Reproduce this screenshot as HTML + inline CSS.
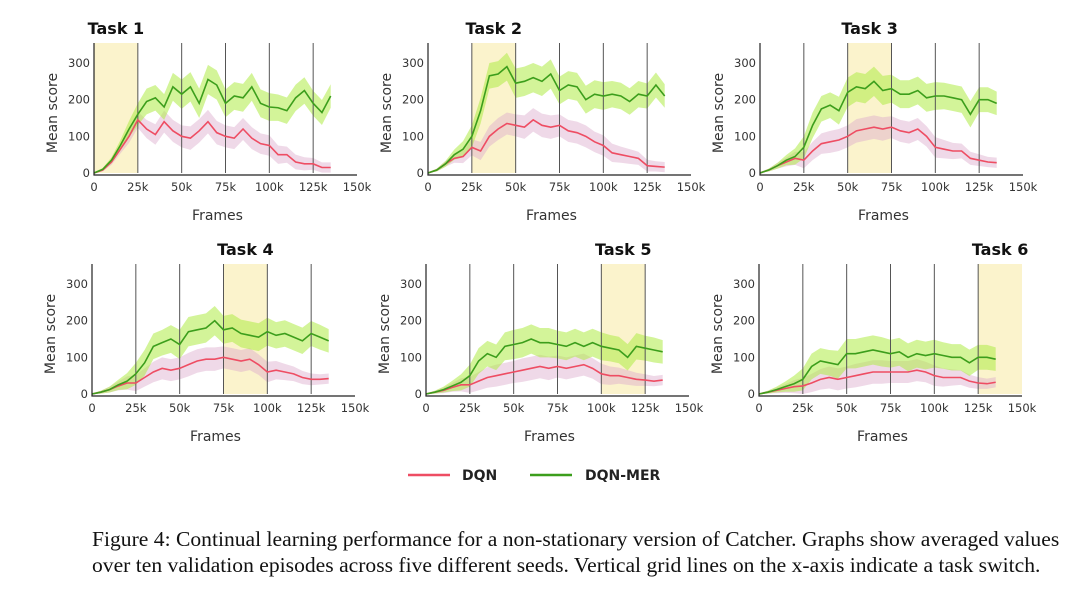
<!DOCTYPE html>
<html><head><meta charset="utf-8">
<style>
body{margin:0;background:#fff;width:1080px;height:591px;overflow:hidden;}
svg{display:block}
.cap{position:absolute;left:92px;width:966px;font-family:"Liberation Serif",serif;font-size:21.6px;line-height:26px;color:#111;white-space:nowrap;}
.l1{top:526px;text-align:justify;text-align-last:justify;}
.l2{top:552px;}
</style></head>
<body>
<svg id="fig" width="1080" height="591" xmlns="http://www.w3.org/2000/svg"></svg>
<div class="cap l1">Figure 4: Continual learning performance for a non-stationary version of Catcher. Graphs show averaged values</div>
<div class="cap l2">over ten validation episodes across five different seeds. Vertical grid lines on the x-axis indicate a task switch.</div>
<script>
const frames = [0,5,10,15,20,25,30,35,40,45,50,55,60,65,70,75,80,85,90,95,100,105,110,115,120,125,130,135];
const xTicks = [0,25,50,75,100,125,150];
const xTickLabels = ["0","25k","50k","75k","100k","125k","150k"];
const yTicks = [0,100,200,300];
const taskNames = ["Task 1","Task 2","Task 3","Task 4","Task 5","Task 6"];
const switches = [25,50,75,100,125];
const dqnMer1 = [0,10,35,75,120,160,195,205,180,235,215,235,190,255,240,190,210,205,235,190,180,178,170,205,225,190,165,210];
const dqn1 = [0,8,30,65,100,145,120,105,140,115,100,95,115,140,110,100,95,120,95,80,75,50,50,30,25,25,15,15];
const dqnMer2 = [0,8,25,50,65,100,170,265,270,290,245,250,260,250,270,225,240,235,200,215,210,215,210,195,215,210,240,210];
const dqn2 = [0,8,25,40,45,70,60,100,120,135,130,125,145,130,125,130,115,110,100,85,75,55,50,45,40,20,18,16];
const dqnMer3 = [0,8,20,35,45,70,130,175,185,170,220,235,230,250,225,230,215,215,225,205,210,210,205,200,160,200,200,190];
const dqn3 = [0,8,20,30,40,35,60,80,85,90,100,115,120,125,120,125,115,110,120,100,70,65,60,60,40,35,30,28];
const dqnMer4 = [0,5,12,25,35,55,85,130,140,150,135,170,175,180,200,175,180,165,160,155,170,160,165,155,145,165,155,145];
const dqn4 = [0,5,12,22,30,30,45,60,70,65,70,80,90,95,95,100,95,90,95,80,60,65,60,55,45,40,40,42];
const dqnMer5 = [0,5,12,22,32,50,90,110,100,130,135,140,150,140,140,135,130,140,130,140,130,125,120,100,130,125,120,115];
const dqn5 = [0,5,10,18,25,25,35,45,50,55,60,65,70,75,70,75,70,75,80,70,55,50,50,45,40,38,35,38];
const dqnMer6 = [0,5,12,20,28,40,75,90,85,80,110,110,115,120,115,110,115,100,110,105,110,105,100,100,85,100,100,95];
const dqn6 = [0,5,10,15,20,22,30,40,45,40,45,50,55,60,60,60,60,60,65,60,50,45,45,45,35,30,28,32];
const merSpread = [2,4,8,14,22,30,35,35,35,38,40,40,40,40,40,38,38,38,38,38,38,36,36,36,36,34,34,32];
const dqnSpread = [2,4,8,12,18,22,25,28,30,30,30,32,32,32,32,30,30,30,30,28,28,25,22,20,18,16,14,14];
const merSeries=[dqnMer1,dqnMer2,dqnMer3,dqnMer4,dqnMer5,dqnMer6];
const dqnSeries=[dqn1,dqn2,dqn3,dqn4,dqn5,dqn6];

const NS="http://www.w3.org/2000/svg";
const svg=document.getElementById('fig');
function mk(tag,attrs,parent){const e=document.createElementNS(NS,tag);for(const k in attrs)e.setAttribute(k,attrs[k]);(parent||svg).appendChild(e);return e;}
const panels=[{x0:94,y0:173},{x0:428,y0:173},{x0:760,y0:173},{x0:92,y0:394},{x0:426,y0:394},{x0:759,y0:394}];
const W=263, PPU=110/300;
panels.forEach((p,i)=>{
  const g=mk('g',{});
  
  
  const sx=v=>p.x0+v/150*W, sy=v=>p.y0-v*PPU;
  const top=p.y0-130;
  const hl=mk('rect',{x:sx(i*25),y:top,width:sx((i+1)*25)-sx(i*25),height:p.y0-top,fill:'#fbf3cc'},g);
  
  
  const band=(arr,sp,fill,name)=>{
    let d='M'+frames.map((f,j)=>sx(f)+','+sy(arr[j]+sp[j])).join('L');
    for(let j=frames.length-1;j>=0;j--)d+='L'+sx(frames[j])+','+sy(Math.max(0,arr[j]-sp[j]));
    const e=mk('path',{d:d+'Z',fill:fill},g);
    
    
  };
  band(dqnSeries[i],dqnSpread,'rgba(220,170,205,0.45)','dqn-band');
  band(merSeries[i],merSpread,'rgba(175,235,70,0.55)','dqn-mer-band');
  switches.forEach(s=>{const l=mk('line',{x1:sx(s),x2:sx(s),y1:top,y2:p.y0,stroke:'#555','stroke-width':1},g);
    
    });
  const line=(arr,col,name)=>{const e=mk('polyline',{points:frames.map((f,j)=>sx(f)+','+sy(arr[j])).join(' '),fill:'none',stroke:col,'stroke-width':1.6},g);
    
    };
  line(dqnSeries[i],'#ee4d63','dqn-line');
  line(merSeries[i],'#3c9e1c','dqn-mer-line');
  const ax=mk('path',{d:`M${p.x0},${top}V${p.y0+2}H${p.x0+W}`,fill:'none',stroke:'#222','stroke-width':1.2},g);
  
  
  xTicks.forEach((t,j)=>{const e=mk('text',{x:sx(t),y:p.y0+18,'text-anchor':'middle','font-family':'DejaVu Sans,sans-serif','font-size':11.5,fill:'#333'},g);e.textContent=xTickLabels[j];
    
    });
  yTicks.forEach(t=>{const e=mk('text',{x:p.x0-4,y:sy(t)+4,'text-anchor':'end','font-family':'DejaVu Sans,sans-serif','font-size':11.5,fill:'#333'},g);e.textContent=t;
    
    });
  const xt=mk('text',{x:p.x0+W/2-8,y:p.y0+47,'text-anchor':'middle','font-family':'DejaVu Sans,sans-serif','font-size':14,fill:'#333'},g);xt.textContent='Frames';
  
  
  const yx=p.x0-37,yy=p.y0-60;
  const yt=mk('text',{x:yx,y:yy,'text-anchor':'middle',transform:`rotate(-90 ${yx} ${yy})`,'font-family':'DejaVu Sans,sans-serif','font-size':14,fill:'#333'},g);yt.textContent='Mean score';
  
  
  const tt=mk('text',{x:sx(i*25+12.5),y:top-9,'text-anchor':'middle','font-family':'DejaVu Sans,sans-serif','font-size':16,'font-weight':'bold',fill:'#111'},g);tt.textContent=taskNames[i];
  
  
});
const lg=mk('g',{});


[[408,'#ee4d63','DQN',462],[530,'#3c9e1c','DQN-MER',585]].forEach(a=>{
  const l=mk('line',{x1:a[0],x2:a[0]+42,y1:475,y2:475,stroke:a[1],'stroke-width':2.5},lg);
  
  
  const t=mk('text',{x:a[3],y:480,'font-family':'DejaVu Sans,sans-serif','font-size':14,'font-weight':'bold',fill:'#222'},lg);t.textContent=a[2];
  
  
});
</script>
</body></html>
